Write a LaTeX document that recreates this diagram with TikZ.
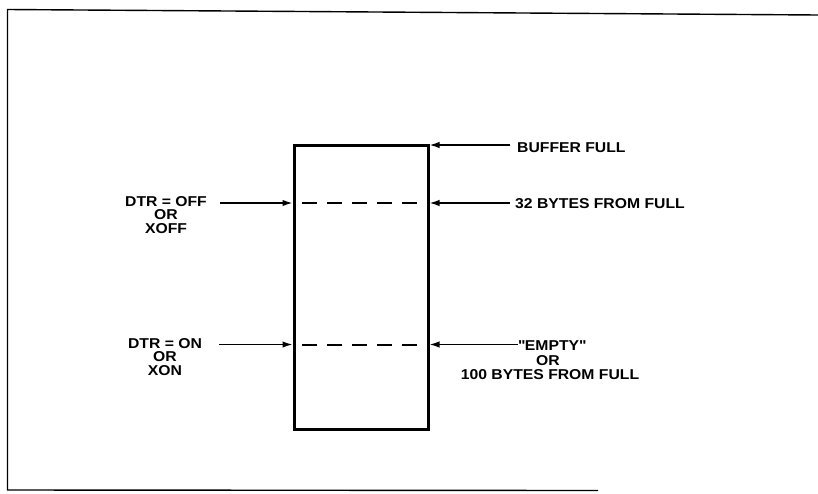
\documentclass[tikz,border=0pt]{standalone}
\usepackage{fontspec}
\setmainfont{Liberation Sans}[FakeStretch=1.1,UprightFont=* Bold]
\usetikzlibrary{arrows.meta}
\begin{document}
\begin{tikzpicture}[x=1pt,y=-1pt,
  frame/.style={line width=1.4pt},
  bufbox/.style={draw,line width=3pt,minimum width=134pt,minimum height=284pt,inner sep=0pt},
  ptr/.style={line width=1.5pt,-{Latex[length=10pt,width=6.5pt]}},
  level/.style={line width=2pt,dash pattern=on 15pt off 10pt},
  lbl/.style={font=\fontsize{14.3}{13.5}\selectfont,inner sep=0pt,align=center},
  rlbl/.style={font=\fontsize{14.3}{14}\selectfont,inner sep=0pt}]
\useasboundingbox (0,0) rectangle (818,493);
% frame
\draw[frame] (818,15) -- (7.5,9.5) -- (7.5,490) -- (598,490.5);
% buffer
\node[bufbox] (buf) at (361,287) {};
% levels
\coordinate (l1a) at (302,203);
\coordinate (l1b) at (418,203);
\coordinate (l2a) at (302,344.5);
\coordinate (l2b) at (418,344.5);
\draw[level] (l1a) -- (l1b);
\draw[level] (l2a) -- (l2b);
\coordinate (bl1) at (buf.west |- l1a);
\coordinate (br1) at (buf.east |- l1a);
\coordinate (bl2) at (buf.west |- l2a);
\coordinate (br2) at (buf.east |- l2a);
\coordinate (brt) at (buf.north east);
% left labels
\node[lbl,anchor=north] (off) at (166,196) {DTR = OFF\\OR\\XOFF};
\node[lbl,anchor=north] (on) at (165,338) {DTR = ON\\OR\\XON};
\coordinate (offs) at (220,203);
\coordinate (ons) at (219,344.5);
\draw[ptr] (offs) -- (bl1);
\draw[ptr] (ons) -- (bl2);
% right labels
\node[rlbl,anchor=west] (full) at (517,148) {BUFFER FULL};
\node[rlbl,anchor=west] (b32) at (515,203.5) {32 BYTES FROM FULL};
\node[rlbl] (emp) at (552,346) {\textquotedbl EMPTY\textquotedbl};
\node[rlbl] (eor) at (548,360.5) {OR};
\node[rlbl] (b100) at (550,375) {100 BYTES FROM FULL};
\coordinate (fulls) at (510,145);
\coordinate (b32s) at (510,203);
\draw[ptr] (fulls) -- (brt |- fulls);
\draw[ptr] (b32s) -- (br1);
\draw[ptr] (emp.west |- br2) -- (br2);
\end{tikzpicture}
\end{document}
